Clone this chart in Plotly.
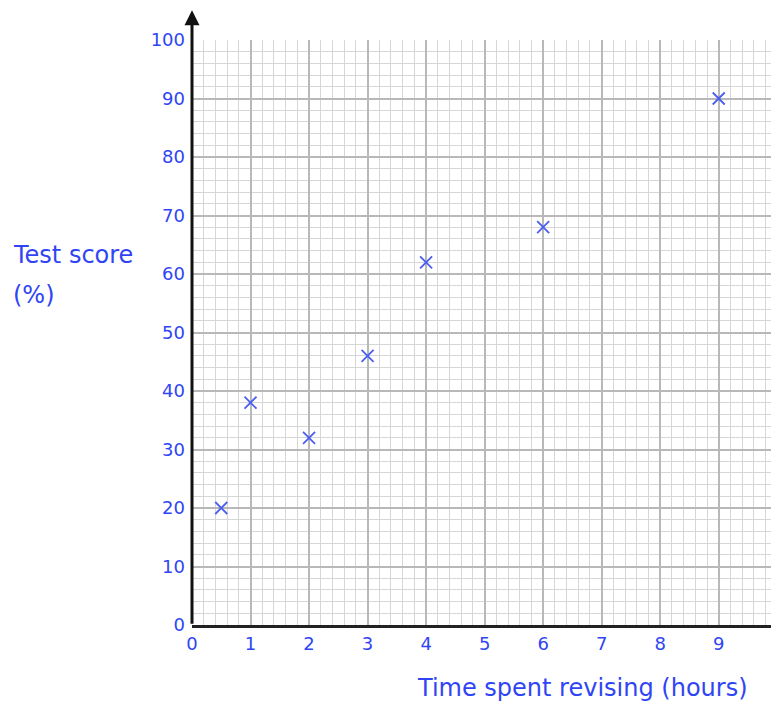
import plotly.graph_objects as go

hours = [0.5, 1, 2, 3, 4, 6, 9]
scores = [20, 38, 32, 46, 62, 68, 90]
x_ticks = [0, 1, 2, 3, 4, 5, 6, 7, 8, 9]
y_ticks = [0, 10, 20, 30, 40, 50, 60, 70, 80, 90, 100]

BLUE = "#2f45f5"
FONT = "DejaVu Sans"

fig = go.Figure()
fig.add_trace(go.Scatter(
    x=hours, y=scores, mode="markers",
    marker=dict(symbol="x-thin", size=12, line=dict(width=1.8, color="#4a5ef0")),
    cliponaxis=False, showlegend=False,
))

# page body has an 8px offset; figure sized to fit the window exactly
fig.update_layout(
    width=771, height=695,
    margin=dict(l=184, r=0, t=32, b=78),
    paper_bgcolor="white", plot_bgcolor="white",
    font=dict(family=FONT, color=BLUE, size=18),
    xaxis=dict(
        range=[0, 10.03], tickvals=x_ticks, ticktext=[str(v) for v in x_ticks],
        showgrid=True, gridcolor="#b8b8b8", gridwidth=1.6,
        minor=dict(dtick=0.2, tick0=0, showgrid=True, gridcolor="#d6d6d6", gridwidth=1),
        showline=True, linecolor="#222222", linewidth=3, zeroline=False,
        ticks="", ticklabelstandoff=0, tickfont=dict(size=18, color=BLUE),
        fixedrange=True,
    ),
    yaxis=dict(
        range=[0, 100], tickvals=y_ticks, ticktext=[str(v) for v in y_ticks],
        showgrid=True, gridcolor="#b8b8b8", gridwidth=1.6,
        minor=dict(dtick=2, tick0=0, showgrid=True, gridcolor="#d6d6d6", gridwidth=1),
        showline=False, zeroline=False,
        ticks="", ticklabelstandoff=6, tickfont=dict(size=18, color=BLUE),
        fixedrange=True,
    ),
)

# y axis with arrow
fig.add_annotation(
    xref="x", yref="paper", x=0, y=1.051, text="",
    showarrow=True, axref="pixel", ayref="pixel", ax=0, ay=615,
    arrowhead=2, arrowsize=1.0, arrowwidth=3, arrowcolor="#111111",
)

fig.add_annotation(
    xref="paper", yref="paper", x=-0.309, y=0.6325, xanchor="left", yanchor="middle",
    text="Test score", showarrow=False,
    font=dict(family=FONT, size=24, color=BLUE),
)
fig.add_annotation(
    xref="paper", yref="paper", x=-0.309, y=0.564, xanchor="left", yanchor="middle",
    text="(%)", showarrow=False,
    font=dict(family=FONT, size=24, color=BLUE),
)
fig.add_annotation(
    xref="paper", yref="paper", x=0.9506, y=-0.1077, xanchor="right", yanchor="middle",
    text="Time spent revising (hours)", showarrow=False,
    font=dict(family=FONT, size=24, color=BLUE),
)

fig.write_html("out.html")
